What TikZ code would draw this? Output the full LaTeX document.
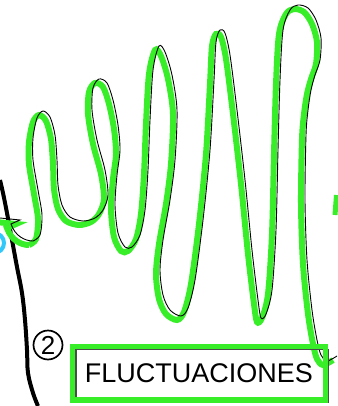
\documentclass[tikz,border=0pt]{standalone}
\usepackage{fontspec}
\setmainfont{Liberation Sans}
\definecolor{wavegreen}{RGB}{55,238,40}
\definecolor{skyc}{RGB}{50,200,250}
\tikzset{
  thinline/.style={draw=black,line width=0.9pt},
  greenline/.style={draw=wavegreen,line width=6pt},
  labelbox/.style={draw=wavegreen,line width=5.5pt,minimum width=253pt,minimum height=53.5pt,inner sep=0pt},
  numcircle/.style={circle,draw=black,line width=1.7pt,minimum size=29pt,inner sep=0pt,font=\fontsize{26}{26}\selectfont}
}
\begin{document}
\begin{tikzpicture}[x=1pt,y=-1pt]
\useasboundingbox (0,0) rectangle (337,406);
\def\wave{(0,218) -- (20,220) -- (11,224) .. controls (15,236) and (25,241) .. (33,241)
 plot[smooth,tension=0.5] coordinates {(33,241) (40,235) (42,215) (38,190) (33,160) (33,138) (37,118) (43,111) (50,117) (55,135) (57,160) (58,185) (62,205) (70,217) (83,221) (95,218) (103,210) (108,195) (105,170) (97,140) (92,110) (93,88) (99,79) (107,83) (113,100) (118,125) (120,150) (117,175) (115,205) (118,233) (125,247) (132,247) (140,235) (145,210) (148,170) (150,120) (153,70) (159,46) (165,52) (172,75) (177,110) (175,160) (170,200) (163,240) (160,270) (163,295) (170,310) (181,316) (188,308) (195,280) (203,220) (210,150) (214,80) (216,42) (220,30) (225,33) (230,55) (237,110) (245,180) (252,250) (258,300) (261,318) (266,314) (272,290) (276,230) (278,150) (280,80) (283,30) (290,10) (298,5) (308,8) (316,20) (321,38) (320,60) (315,75) (311,90) (308,110) (306,135) (305,200) (307,260) (312,310) (317,340) (321,355) (327,361) (337,356)}}
% black thick curve
\draw[black,line width=4pt] plot[smooth,tension=0.6] coordinates {(0,180) (3,193) (7,213) (12,240) (17,267) (22,293) (25,320) (27,350) (28,373) (33,393) (38,406)};
% cyan partial circle
\draw[skyc,line width=4pt] (-6,243) circle (10);
% green wave
\draw[greenline,shift={(-4,4)}] \wave;
% black thin wave
\draw[thinline] \wave;
% right edge green fragment
\draw[wavegreen,line width=5pt] (336.5,195) -- (335,215);
% label box
\node[draw=black!70,line width=1.3pt,minimum width=252pt,minimum height=53pt,inner sep=0pt] (boxb) at (202,376) {};
\node[labelbox,font=\fontsize{27}{27}\selectfont] (box) at (199,373.25) {FLUCTUACIONES};
% number circle
\node[numcircle] (num) at (48,345) {2};
\end{tikzpicture}
\end{document}
